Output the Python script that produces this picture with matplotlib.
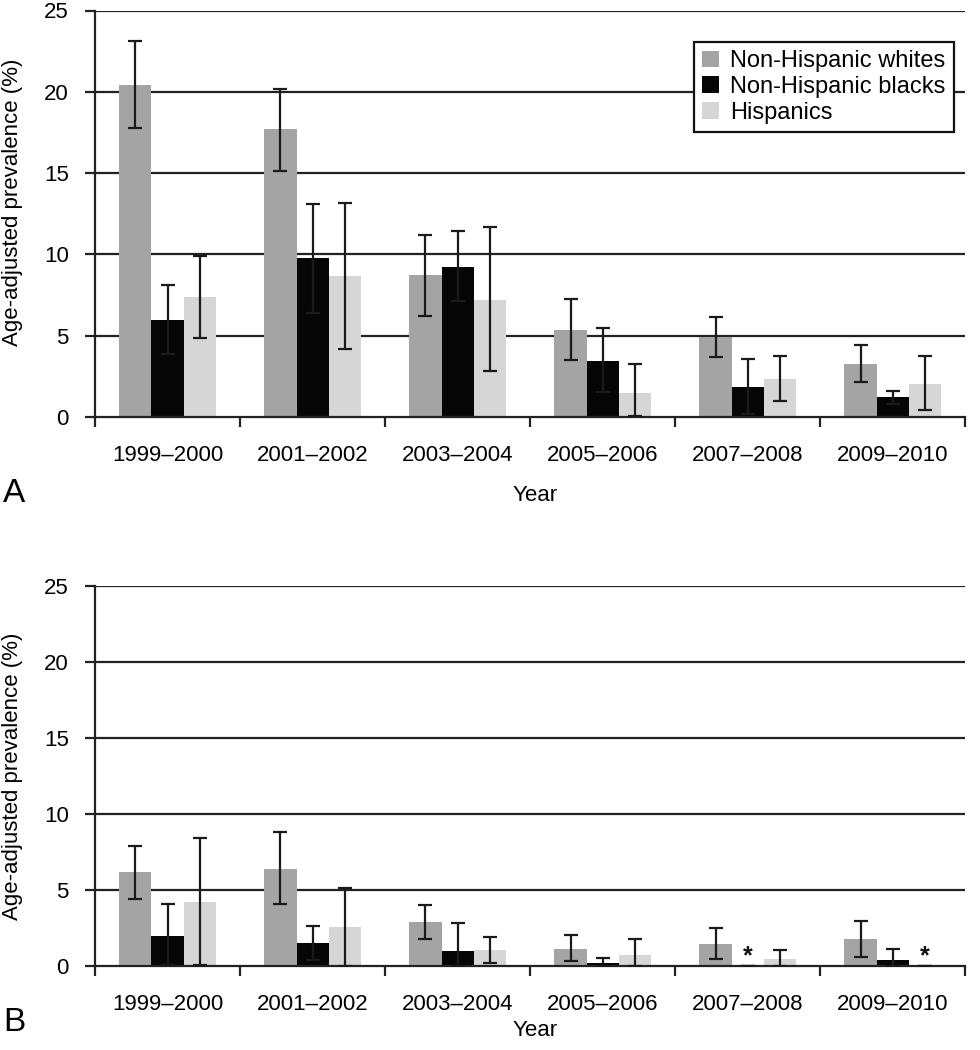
import numpy as np
import matplotlib.pyplot as plt

plt.rcParams["font.family"] = ["Liberation Sans", "DejaVu Sans"]

years = ["1999–2000", "2001–2002", "2003–2004", "2005–2006", "2007–2008", "2009–2010"]
groups = ["Non-Hispanic whites", "Non-Hispanic blacks", "Hispanics"]
colors = ["#a4a4a4", "#060606", "#d6d6d6"]

# panel A: estimate, lower CI, upper CI
a_white = [20.4, 17.7, 8.7, 5.35, 4.9, 3.25]
a_white_lo = [17.8, 15.1, 6.2, 3.5, 3.7, 2.15]
a_white_hi = [23.1, 20.2, 11.2, 7.25, 6.15, 4.4]
a_black = [5.95, 9.75, 9.25, 3.45, 1.85, 1.2]
a_black_lo = [3.85, 6.4, 7.1, 1.5, 0.2, 0.8]
a_black_hi = [8.1, 13.1, 11.45, 5.45, 3.55, 1.6]
a_hisp = [7.35, 8.65, 7.2, 1.45, 2.35, 2.05]
a_hisp_lo = [4.85, 4.2, 2.85, 0.05, 0.95, 0.4]
a_hisp_hi = [9.9, 13.15, 11.65, 3.25, 3.75, 3.75]

# panel B (0 = suppressed estimate, marked with *)
b_white = [6.15, 6.4, 2.9, 1.15, 1.45, 1.8]
b_white_lo = [4.4, 4.05, 1.75, 0.3, 0.45, 0.6]
b_white_hi = [7.9, 8.8, 4.0, 2.05, 2.5, 2.95]
b_black = [2.0, 1.5, 1.0, 0.2, 0.0, 0.4]
b_black_lo = [0.05, 0.4, 0.0, 0.0, 0.0, 0.0]
b_black_hi = [4.05, 2.65, 2.85, 0.5, 0.0, 1.1]
b_hisp = [4.2, 2.55, 1.05, 0.7, 0.45, 0.0]
b_hisp_lo = [0.05, 0.0, 0.2, 0.0, 0.0, 0.0]
b_hisp_hi = [8.4, 5.15, 1.9, 1.8, 1.05, 0.0]
b_star_black = [False, False, False, False, True, False]
b_star_hisp = [False, False, False, False, False, True]

FS = 16


def draw_panel(ax, series, stars=None):
    x = np.arange(len(years)) + 0.5
    w = 0.222
    for k, (vals, lo, hi) in enumerate(series):
        vals, lo, hi = np.array(vals), np.array(lo), np.array(hi)
        xs = x + (k - 1) * w
        ax.bar(xs, vals, width=w, color=colors[k], label=groups[k], zorder=2)
        ax.errorbar(xs, vals, yerr=[vals - lo, hi - vals], fmt="none",
                    ecolor="#1a1a1a", elinewidth=1.6, capsize=5, capthick=1.6, zorder=3)
        if stars is not None and stars[k] is not None:
            for xi, s in zip(xs, stars[k]):
                if s:
                    ax.text(xi, 0.65, "*", ha="center", va="center", fontsize=FS + 2,
                            fontweight="bold", color="#111111", zorder=4)

    ax.set_xlim(0, len(years))
    ax.set_ylim(0, 25)
    ax.set_yticks(range(0, 26, 5))
    for yv in range(5, 26, 5):
        ax.axhline(yv, color="#222222", lw=1.6, zorder=1)
    ax.set_xticks(range(0, len(years) + 1))
    ax.set_xticklabels([])
    ax.set_xticks(x, minor=True)
    ax.set_xticklabels(years, minor=True)
    ax.tick_params(axis="x", which="major", direction="out", length=7, width=1.6, color="#222222")
    ax.tick_params(axis="x", which="minor", length=0, pad=20, labelsize=FS)
    ax.tick_params(axis="y", direction="out", length=7, width=1.6, color="#222222",
                   pad=12, labelsize=FS)
    for side in ["top", "right"]:
        ax.spines[side].set_visible(False)
    for side in ["left", "bottom"]:
        ax.spines[side].set_linewidth(1.6)
        ax.spines[side].set_color("#222222")


fig = plt.figure(figsize=(9.8, 10.5), dpi=100)
axA = fig.add_axes([0.097, 0.603, 0.888, 0.387])
axB = fig.add_axes([0.097, 0.080, 0.888, 0.362])

draw_panel(axA, [(a_white, a_white_lo, a_white_hi),
                 (a_black, a_black_lo, a_black_hi),
                 (a_hisp, a_hisp_lo, a_hisp_hi)])
draw_panel(axB, [(b_white, b_white_lo, b_white_hi),
                 (b_black, b_black_lo, b_black_hi),
                 (b_hisp, b_hisp_lo, b_hisp_hi)],
           stars=[None, b_star_black, b_star_hisp])

leg = axA.legend(loc="upper right", bbox_to_anchor=(0.987, 0.922), fontsize=FS + 1,
                 frameon=True, fancybox=False, framealpha=1, edgecolor="#111111",
                 handlelength=0.7, handleheight=0.7, handletextpad=0.5,
                 labelspacing=0.15, borderpad=0.35, borderaxespad=0)
leg.get_frame().set_linewidth(1.6)
leg.set_zorder(5)

for ax, lab, ylab_y, year_y, lab_y in [(axA, "A", 0.807, 0.528, 0.530),
                                       (axB, "B", 0.261, 0.019, 0.026)]:
    fig.text(0.013, ylab_y, "Age-adjusted prevalence (%)", rotation=90,
             ha="center", va="center", fontsize=FS)
    fig.text(0.546, year_y, "Year", ha="center", va="center", fontsize=FS)
    fig.text(0.003, lab_y, lab, ha="left", va="center", fontsize=FS + 8)

fig.savefig("out.png", dpi=100)
